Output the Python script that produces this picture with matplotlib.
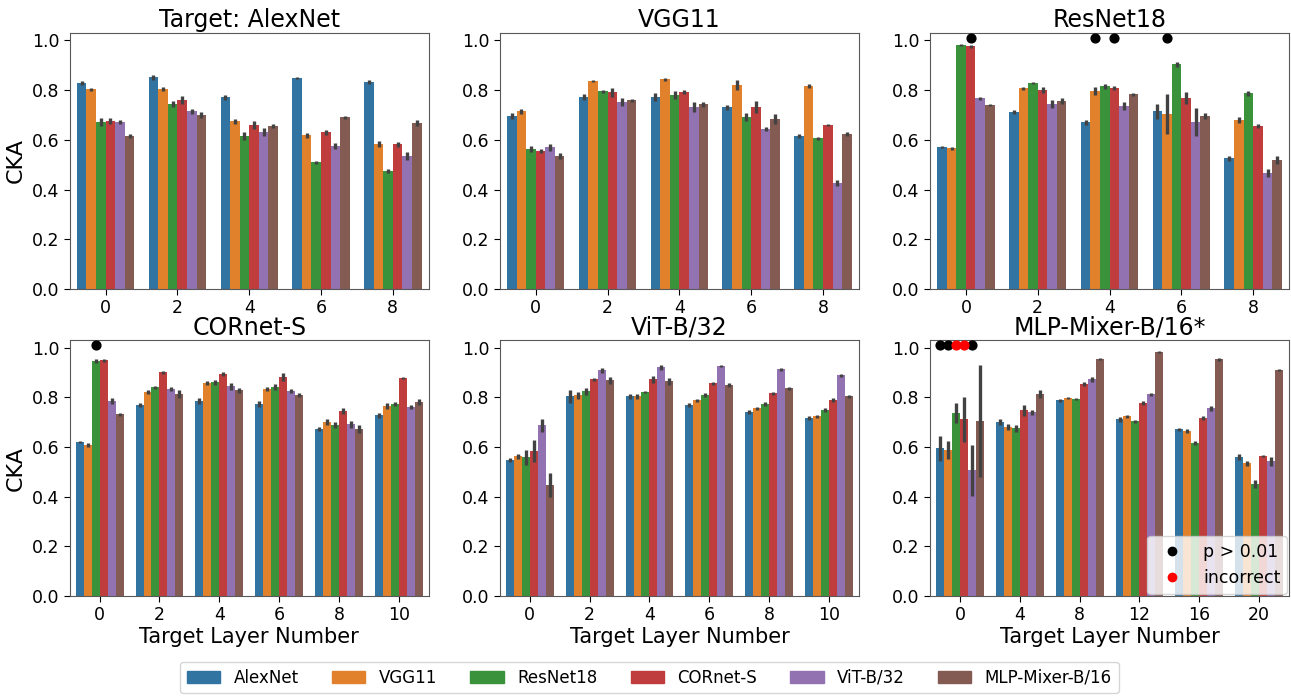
import colorsys
import numpy as np
import matplotlib.pyplot as plt
from matplotlib.lines import Line2D
from matplotlib.patches import Patch

# ============================
# Data
# ============================

models = ["AlexNet", "VGG11", "ResNet18", "CORnet-S", "ViT-B/32", "MLP-Mixer-B/16"]
titles = ["Target: AlexNet", "VGG11", "ResNet18", "CORnet-S", "ViT-B/32", "MLP-Mixer-B/16*"]

layers_alexnet = ["0", "2", "4", "6", "8"]
layers_vgg = ["0", "2", "4", "6", "8"]
layers_resnet = ["0", "2", "4", "6", "8"]
layers_cornet = ["0", "2", "4", "6", "8", "10"]
layers_vit = ["0", "2", "4", "6", "8", "10"]
layers_mixer = ["0", "4", "8", "12", "16", "20"]

# rows = target layers, columns = source models
cka_alexnet = [
    [0.828, 0.804, 0.671, 0.675, 0.671, 0.615],
    [0.852, 0.804, 0.744, 0.760, 0.715, 0.699],
    [0.772, 0.675, 0.615, 0.659, 0.631, 0.655],
    [0.848, 0.619, 0.510, 0.631, 0.577, 0.691],
    [0.832, 0.583, 0.474, 0.583, 0.534, 0.667],
]
err_alexnet = [
    [0.008, 0.006, 0.015, 0.012, 0.008, 0.008],
    [0.010, 0.008, 0.012, 0.015, 0.010, 0.013],
    [0.010, 0.010, 0.017, 0.015, 0.017, 0.008],
    [0.005, 0.010, 0.006, 0.010, 0.012, 0.006],
    [0.008, 0.012, 0.008, 0.010, 0.015, 0.012],
]

cka_vgg = [
    [0.695, 0.715, 0.562, 0.554, 0.570, 0.534],
    [0.772, 0.836, 0.796, 0.792, 0.752, 0.760],
    [0.772, 0.844, 0.780, 0.792, 0.732, 0.744],
    [0.732, 0.820, 0.691, 0.732, 0.643, 0.683],
    [0.615, 0.816, 0.607, 0.659, 0.426, 0.623],
]
err_vgg = [
    [0.012, 0.010, 0.012, 0.008, 0.015, 0.012],
    [0.012, 0.005, 0.006, 0.018, 0.015, 0.006],
    [0.015, 0.006, 0.015, 0.008, 0.022, 0.010],
    [0.010, 0.020, 0.017, 0.025, 0.008, 0.020],
    [0.008, 0.008, 0.006, 0.005, 0.012, 0.008],
]

cka_resnet = [
    [0.570, 0.566, 0.981, 0.977, 0.768, 0.740],
    [0.711, 0.808, 0.828, 0.800, 0.744, 0.756],
    [0.671, 0.796, 0.816, 0.808, 0.736, 0.784],
    [0.715, 0.703, 0.905, 0.768, 0.671, 0.695],
    [0.526, 0.679, 0.788, 0.655, 0.466, 0.518],
]
err_resnet = [
    [0.004, 0.006, 0.003, 0.006, 0.006, 0.003],
    [0.008, 0.006, 0.005, 0.012, 0.017, 0.012],
    [0.010, 0.015, 0.010, 0.008, 0.017, 0.006],
    [0.030, 0.080, 0.010, 0.024, 0.057, 0.012],
    [0.010, 0.012, 0.010, 0.008, 0.017, 0.015],
]

cka_cornet = [
    [0.619, 0.607, 0.945, 0.949, 0.784, 0.732],
    [0.768, 0.820, 0.840, 0.901, 0.832, 0.812],
    [0.784, 0.856, 0.860, 0.893, 0.844, 0.828],
    [0.772, 0.832, 0.840, 0.881, 0.824, 0.808],
    [0.671, 0.699, 0.687, 0.744, 0.691, 0.671],
    [0.728, 0.764, 0.772, 0.877, 0.760, 0.780],
]
err_cornet = [
    [0.005, 0.008, 0.008, 0.006, 0.012, 0.006],
    [0.008, 0.008, 0.005, 0.006, 0.008, 0.017],
    [0.012, 0.008, 0.010, 0.008, 0.015, 0.010],
    [0.012, 0.008, 0.012, 0.015, 0.008, 0.008],
    [0.008, 0.012, 0.012, 0.012, 0.015, 0.017],
    [0.010, 0.012, 0.008, 0.005, 0.008, 0.012],
]

cka_vit = [
    [0.546, 0.562, 0.558, 0.583, 0.687, 0.446],
    [0.804, 0.808, 0.824, 0.872, 0.909, 0.868],
    [0.804, 0.804, 0.820, 0.872, 0.921, 0.864],
    [0.768, 0.788, 0.808, 0.856, 0.925, 0.848],
    [0.740, 0.756, 0.772, 0.816, 0.913, 0.836],
    [0.715, 0.723, 0.748, 0.788, 0.889, 0.804],
]
err_vit = [
    [0.008, 0.010, 0.030, 0.044, 0.026, 0.047],
    [0.027, 0.015, 0.015, 0.006, 0.010, 0.015],
    [0.010, 0.010, 0.004, 0.015, 0.010, 0.015],
    [0.008, 0.006, 0.008, 0.006, 0.005, 0.008],
    [0.008, 0.006, 0.008, 0.006, 0.006, 0.005],
    [0.008, 0.005, 0.008, 0.008, 0.006, 0.006],
]

cka_mixer = [
    [0.595, 0.587, 0.736, 0.711, 0.506, 0.703],
    [0.699, 0.679, 0.675, 0.748, 0.740, 0.812],
    [0.788, 0.796, 0.792, 0.852, 0.872, 0.953],
    [0.711, 0.723, 0.703, 0.776, 0.812, 0.981],
    [0.671, 0.663, 0.615, 0.715, 0.756, 0.953],
    [0.558, 0.534, 0.450, 0.562, 0.542, 0.909],
]
err_mixer = [
    [0.050, 0.035, 0.040, 0.090, 0.102, 0.225],
    [0.012, 0.012, 0.015, 0.022, 0.010, 0.017],
    [0.006, 0.005, 0.005, 0.008, 0.010, 0.005],
    [0.010, 0.006, 0.006, 0.008, 0.006, 0.004],
    [0.006, 0.008, 0.008, 0.008, 0.010, 0.006],
    [0.012, 0.010, 0.017, 0.004, 0.017, 0.004],
]

# markers above bars: (layer index, model index)
not_sig_resnet = [(0, 3), (2, 1), (2, 3), (3, 1)]
not_sig_cornet = [(0, 2)]
not_sig_mixer = [(0, 0), (0, 1), (0, 4)]
incorrect_mixer = [(0, 2), (0, 3)]

panels = [
    (layers_alexnet, cka_alexnet, err_alexnet, [], []),
    (layers_vgg, cka_vgg, err_vgg, [], []),
    (layers_resnet, cka_resnet, err_resnet, not_sig_resnet, []),
    (layers_cornet, cka_cornet, err_cornet, not_sig_cornet, []),
    (layers_vit, cka_vit, err_vit, [], []),
    (layers_mixer, cka_mixer, err_mixer, not_sig_mixer, incorrect_mixer),
]

# ============================
# Colours (tab10 desaturated like seaborn barplot)
# ============================

def desaturate(c, prop=0.75):
    r, g, b = plt.matplotlib.colors.to_rgb(c)
    h, l, s = colorsys.rgb_to_hls(r, g, b)
    return colorsys.hls_to_rgb(h, l, s * prop)

colors = [desaturate(c) for c in plt.cm.tab10.colors[:6]]

# ============================
# Plot
# ============================

plt.rcParams["font.family"] = "DejaVu Sans"
plt.rcParams["axes.edgecolor"] = "0.35"

fig, axes = plt.subplots(2, 3, figsize=(12.91, 6.96), dpi=100)
fig.subplots_adjust(left=0.054, right=0.9985, top=0.9526, bottom=0.1437,
                    wspace=0.198, hspace=0.2)

n_models = len(models)
width = 0.8 / n_models
dot_y = 1.01

for idx, (ax, (labels, vals, errs, black_dots, red_dots)) in enumerate(zip(axes.flat, panels)):
    vals = np.array(vals)
    errs = np.array(errs)
    x = np.arange(len(labels))
    for m in range(n_models):
        offs = x - 0.4 + width * (m + 0.5)
        ax.bar(offs, vals[:, m], width=width, color=colors[m], linewidth=0)
        ax.vlines(offs, vals[:, m] - errs[:, m], vals[:, m] + errs[:, m],
                  color="0.26", linewidth=2.4, zorder=3)

    for g, m in black_dots:
        ax.scatter(g - 0.4 + width * (m + 0.5), dot_y, s=40, color="black",
                   zorder=4, clip_on=False)
    for g, m in red_dots:
        ax.scatter(g - 0.4 + width * (m + 0.5), dot_y, s=40, color="red",
                   zorder=4, clip_on=False)

    ax.set_xticks(x)
    ax.set_xticklabels(labels)
    ax.set_xlim(-0.5, len(labels) - 0.5)
    ax.set_ylim(0, 1.03)
    ax.set_yticks([0.0, 0.2, 0.4, 0.6, 0.8, 1.0])
    ax.tick_params(labelsize=12.5, length=4)
    ax.set_title(titles[idx], fontsize=17, pad=4)
    if idx % 3 == 0:
        ax.set_ylabel("CKA", fontsize=16)
    if idx >= 3:
        ax.set_xlabel("Target Layer Number", fontsize=15, labelpad=2)

# significance legend
sig_handles = [
    Line2D([], [], marker="o", linestyle="", color="black", markersize=6),
    Line2D([], [], marker="o", linestyle="", color="red", markersize=6),
]
axes[1, 2].legend(sig_handles, ["p > 0.01", "incorrect"], loc="lower right",
                  fontsize=12.5, borderaxespad=0.1)

# model legend
model_handles = [Patch(color=c) for c in colors]
fig.legend(model_handles, models, loc="lower center", ncol=6, fontsize=12,
           bbox_to_anchor=(0.503, -0.008))

plt.savefig("out.png", dpi=100)
plt.close()
